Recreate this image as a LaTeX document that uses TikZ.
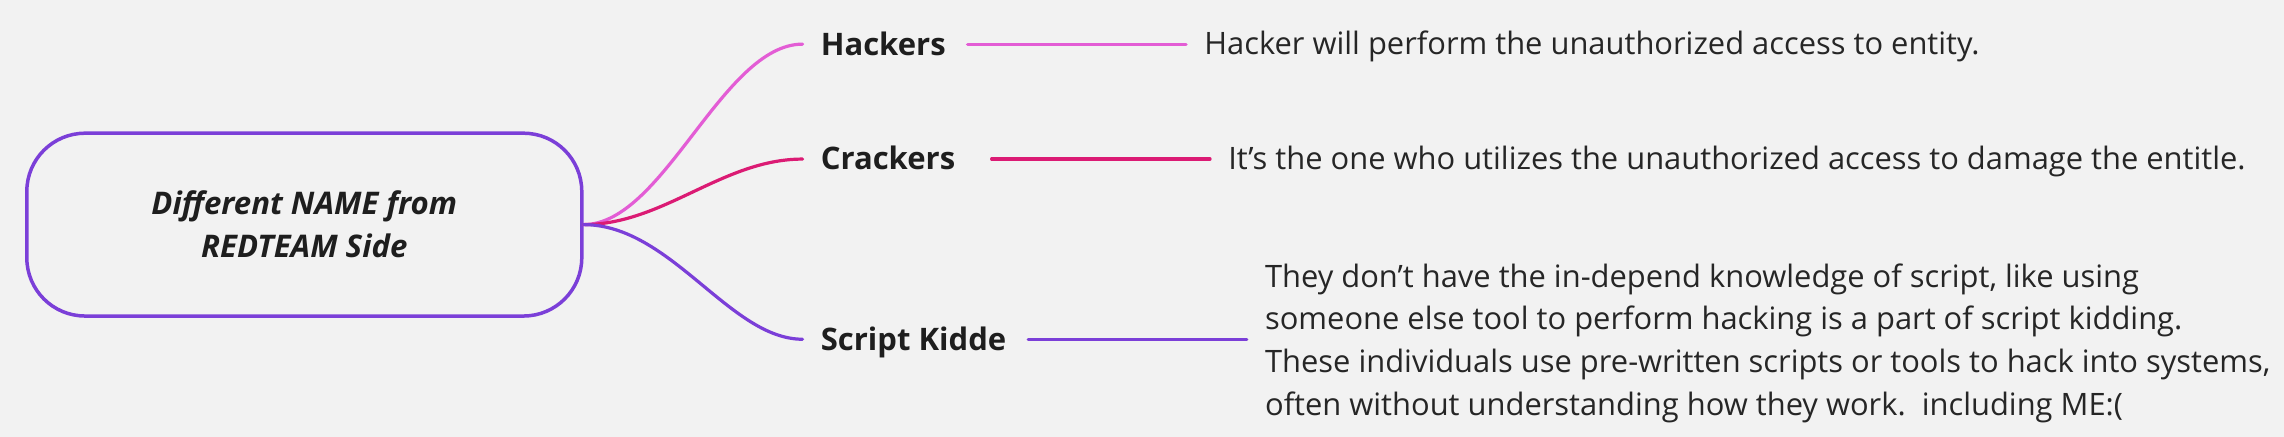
\documentclass[tikz,border=0pt]{standalone}
\usepackage{fontspec}
\setmainfont{Open Sans}
\definecolor{bgc}{HTML}{F2F2F2}
\definecolor{pinkc}{HTML}{E35DD5}
\definecolor{crimc}{HTML}{DB1B74}
\definecolor{purpc}{HTML}{7B3FD8}
\definecolor{txtc}{HTML}{1E1E1E}
\definecolor{desc}{HTML}{262626}
\begin{document}
\begin{tikzpicture}[x=1pt,y=-1pt,
  rootbox/.style={draw=purpc, line width=2.4pt, rounded corners=40pt,
    minimum width=381pt, minimum height=125.5pt, inner sep=0pt,
    align=center, text=txtc, font=\fontsize{21.4}{29.5}\selectfont\bfseries\itshape},
  branchlabel/.style={anchor=west, inner xsep=12.3pt, inner ysep=0pt,
    text height=15pt, text depth=0pt, text=txtc,
    font=\fontsize{21.3}{24}\selectfont\bfseries},
  desctext/.style={anchor=west, inner xsep=12.3pt, inner ysep=0pt,
    text height=14pt, text depth=0pt, text=desc,
    font=\fontsize{21.2}{24}\selectfont},
  wire/.style={line width=2.2pt, line cap=round}
]
\fill[bgc] (0,0) rectangle (1568,300);
\useasboundingbox (0,0) rectangle (1568,300);

\node[rootbox] (root) at (208.9,154.2) {Different NAME from\\REDTEAM Side};

\node[branchlabel] (hack) at (551,30.3) {Hackers};
\node[branchlabel] (crk) at (551,109.2) {Crackers};
\node[branchlabel] (skid) at (551,232.9) {Script Kidde};

\node[desctext] (hdesc) at (814.3,30.3) {Hacker will perform the unauthorized access to entity.};
\node[desctext] (cdesc) at (830.7,109.2) {It’s the one who utilizes the unauthorized access to damage the entitle.};
\node[anchor=north west, inner xsep=12.3pt, inner ysep=0pt, align=left, text=desc,
  font=\fontsize{21.2}{29.4}\selectfont] (sdesc) at (856,180.7)
  {They don’t have the in-depend knowledge of script, like using\\
   someone else tool to perform hacking is a part of script kidding.\\
   These individuals use pre-written scripts or tools to hack into systems,\\
   often without understanding how they work.\ \ including ME:(};

\draw[wire, pinkc] (root.east) .. controls +(55,0) and +(-55,0) .. (hack.west);
\draw[wire, crimc] (root.east) .. controls +(55,0) and +(-55,0) .. (crk.west);
\draw[wire, purpc] (root.east) .. controls +(60,0) and +(-50,0) .. (skid.west);

\draw[wire, pinkc] ([xshift=2.5pt]hack.east) -- (hdesc.west);
\draw[wire, crimc] ([xshift=12.5pt]crk.east) -- (cdesc.west);
\draw[wire, purpc] ([xshift=2.5pt]skid.east) -- (skid.east -| sdesc.west);
\end{tikzpicture}
\end{document}
